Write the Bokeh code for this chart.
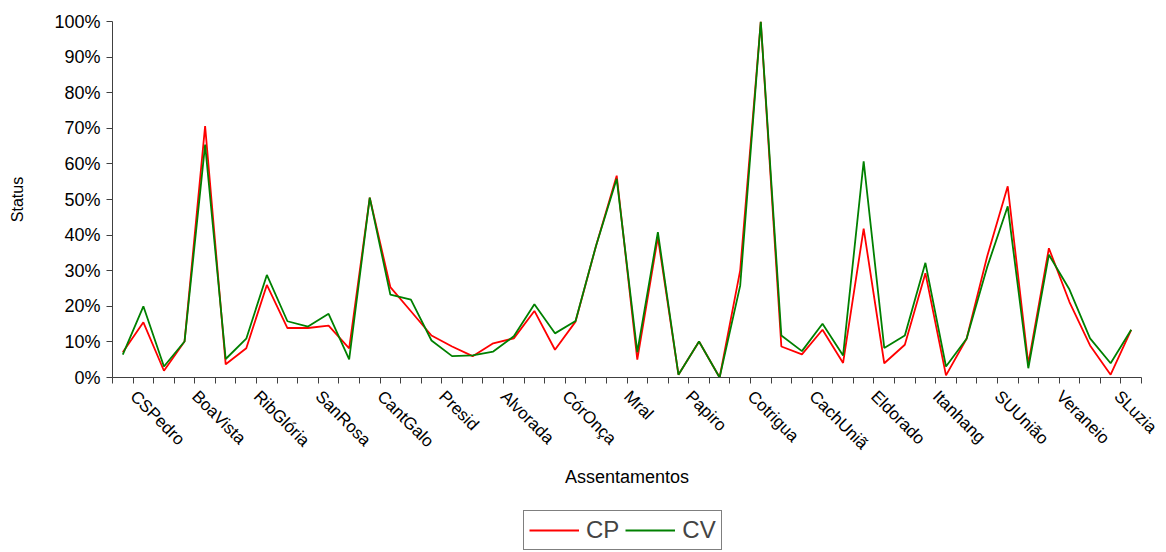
import math
from bokeh.plotting import figure
from bokeh.layouts import column
from bokeh.models import (ColumnDataSource, FixedTicker, NumeralTickFormatter,
                          Legend, LegendItem, Range1d)
from bokeh.embed import file_html
from bokeh.resources import INLINE

# ---- data ----
tick_labels = ["CSPedro", "BoaVista", "RibGlória", "SanRosa", "CantGalo", "Presid",
               "Alvorada", "CórOnça", "Mral", "Papiro", "Cotrigua", "CachUniã",
               "Eldorado", "Itanhang", "SUUnião", "Veraneio", "SLuzia"]
label_step = 3

cp = [7.1, 15.5, 1.9, 10.1, 70.6, 3.7, 8.2, 26.0, 13.9, 13.9,
      14.6, 8.2, 50.5, 25.4, 18.6, 11.8, 8.7, 6.0, 9.6, 11.0,
      18.7, 7.8, 15.7, 37.1, 56.7, 5.0, 39.4, 0.8, 10.1, 0.0,
      30.1, 100.0, 8.7, 6.5, 13.4, 4.1, 41.8, 4.0, 9.2, 29.3,
      0.6, 10.9, 34.0, 53.7, 3.8, 36.3, 21.2, 9.0, 0.8, 13.4]
cv = [6.4, 20.0, 3.1, 10.1, 65.4, 5.2, 10.9, 28.8, 15.8, 14.3,
      17.9, 5.1, 50.5, 23.3, 21.9, 10.4, 6.0, 6.2, 7.3, 11.6,
      20.6, 12.4, 15.9, 37.1, 55.8, 7.1, 40.8, 0.8, 10.1, 0.0,
      25.8, 100.0, 11.8, 7.4, 15.1, 6.2, 60.7, 8.3, 11.8, 32.2,
      3.1, 10.9, 31.0, 48.1, 2.6, 34.5, 24.7, 11.0, 4.0, 13.4]
series_names = ["CP", "CV"]
series_cols = ["cp", "cv"]
series_colors = ["#FF0000", "#008000"]

n = len(cp)
x = [i + 0.5 for i in range(n)]
src = ColumnDataSource(dict(x=x, cp=[v / 100 for v in cp], cv=[v / 100 for v in cv]))

FONT = "Liberation Sans"

p = figure(width=1160, height=500, frame_width=1029, frame_height=356,
           min_border_left=112, min_border_top=21, min_border_right=19,
           min_border_bottom=123, output_backend="svg", toolbar_location=None,
           x_range=Range1d(0, n), y_range=Range1d(0, 1))
p.outline_line_color = None
p.xgrid.grid_line_color = None
p.ygrid.grid_line_color = None
p.background_fill_color = "white"

for col, colr in zip(series_cols, series_colors):
    p.line("x", col, source=src, line_color=colr, line_width=1.8)

# x axis: labels every 3rd category, tick marks between categories
tick_pos = [i * label_step + 1.0 for i in range(len(tick_labels))]
p.xaxis.ticker = FixedTicker(ticks=tick_pos, minor_ticks=list(range(n + 1)))
p.xaxis.major_label_overrides = {tp: lab for tp, lab in zip(tick_pos, tick_labels)}
p.xaxis.major_label_orientation = -math.pi / 4
p.xaxis.major_tick_line_color = None
p.xaxis.major_tick_out = 6
p.xaxis.major_tick_in = 0
p.xaxis.minor_tick_line_color = "#404040"
p.xaxis.minor_tick_out = 6
p.xaxis.minor_tick_in = 0
p.xaxis.axis_line_color = "#404040"
p.xaxis.major_label_text_font = FONT
p.xaxis.major_label_text_font_size = "17px"
p.xaxis.major_label_text_color = "black"
p.xaxis.major_label_standoff = 10
p.xaxis.axis_label = "Assentamentos"
p.xaxis.axis_label_text_font = FONT
p.xaxis.axis_label_text_font_size = "18px"
p.xaxis.axis_label_text_font_style = "normal"
p.xaxis.axis_label_text_color = "black"
p.xaxis.axis_label_standoff = 4

# y axis
p.yaxis.ticker = FixedTicker(ticks=[i / 10 for i in range(11)])
p.yaxis.formatter = NumeralTickFormatter(format="0%")
p.yaxis.major_tick_out = 6
p.yaxis.major_tick_in = 0
p.yaxis.minor_tick_line_color = None
p.yaxis.axis_line_color = "#404040"
p.yaxis.major_tick_line_color = "#404040"
p.yaxis.major_label_text_font = FONT
p.yaxis.major_label_text_font_size = "18px"
p.yaxis.major_label_text_color = "black"
p.yaxis.major_label_standoff = 6
p.yaxis.axis_label = "Status"
p.yaxis.axis_label_text_font = FONT
p.yaxis.axis_label_text_font_size = "16px"
p.yaxis.axis_label_text_font_style = "normal"
p.yaxis.axis_label_text_color = "black"
p.yaxis.axis_label_standoff = 25

# legend strip below the chart (its series lie outside its own visible range)
lg = figure(width=1160, height=52, min_border=0, output_backend="svg",
            toolbar_location=None, x_axis_location=None, y_axis_location=None,
            x_range=Range1d(0, n), y_range=Range1d(5, 6))
lg.outline_line_color = None
lg.xgrid.grid_line_color = None
lg.ygrid.grid_line_color = None
items = []
for name, col, colr in zip(series_names, series_cols, series_colors):
    r = lg.line("x", col, source=src, line_color=colr, line_width=1.8)
    items.append(LegendItem(label=name, renderers=[r]))
legend = Legend(items=items, orientation="horizontal", location=(411, 2))
legend.border_line_color = "black"
legend.border_line_width = 1
legend.label_text_font = FONT
legend.label_text_font_size = "24px"
legend.glyph_width = 50
legend.glyph_height = 20
legend.label_standoff = 7
legend.spacing = 6
legend.padding = 5
legend.margin = 0
legend.background_fill_alpha = 1
lg.add_layout(legend, "center")

open("out.html", "w").write(file_html(column(p, lg, spacing=0), INLINE))
